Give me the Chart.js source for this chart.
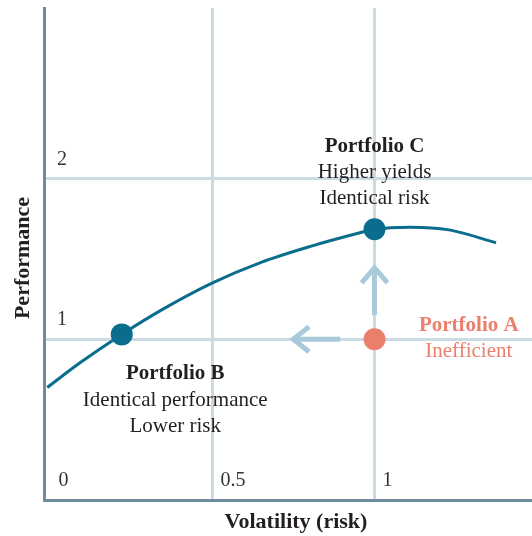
<!DOCTYPE html>
<html>
<head>
<meta charset="utf-8">
<script src="https://cdn.jsdelivr.net/npm/chart.js@4/dist/chart.umd.min.js"></script>
<style>
  html, body { margin: 0; padding: 0; background: #ffffff; }
  #wrap { width: 532px; height: 536px; }
</style>
</head>
<body>
<div id="wrap"><canvas id="chart" width="532" height="536"></canvas></div>
<script>
// Efficient frontier: volatility (x) against performance (y)
const frontierX = [-0.01, 0.09, 0.22, 0.35, 0.50, 0.65, 0.80, 0.955, 1.00, 1.11, 1.23, 1.375];
const frontierY = [0.70, 0.852, 1.03, 1.19, 1.35, 1.478, 1.576, 1.662, 1.684, 1.697, 1.68, 1.60];

// Portfolios
const portfolioNames = ['Portfolio A', 'Portfolio B', 'Portfolio C'];
const portfolioX = [1.0, 0.22, 1.0];
const portfolioY = [1.0, 1.03, 1.684];

// Move arrows from the inefficient portfolio
const arrowUpX = [1.0, 1.0];
const arrowUpY = [1.15, 1.444];
const arrowUpHeadX = [0.96, 1.0, 1.04];
const arrowUpHeadY = [1.351, 1.444, 1.351];
const arrowLeftX = [0.894, 0.749];
const arrowLeftY = [1.0, 1.0];
const arrowLeftHeadX = [0.798, 0.749, 0.798];
const arrowLeftHeadY = [1.078, 1.0, 0.922];

// Axis ticks and titles
const xTicks = [0, 0.5, 1];
const xTickLabels = ['0', '0.5', '1'];
const yTicks = [1, 2];
const yTickLabels = ['1', '2'];
const xTitle = 'Volatility (risk)';
const yTitle = 'Performance';

// Annotation text blocks: bold heading first
const noteA = ['Portfolio A', 'Inefficient'];
const noteB = ['Portfolio B', 'Identical performance', 'Lower risk'];
const noteC = ['Portfolio C', 'Higher yields', 'Identical risk'];
const noteAnchorX = [1.291, 0.385, 1.0];
const noteAnchorY = [1.086, 0.786, 2.2];

const TEAL = '#0b6d8d';
const SALMON = '#ea7f6c';
const ARROW = '#a9cadb';
const GRID = '#cbdbe4';
const AXIS = '#6b8d9e';
const INK = '#231f20';
const SERIF = '"Liberation Serif", "DejaVu Serif", serif';

const pts = (xs, ys) => xs.map((x, i) => ({ x: x, y: ys[i] }));

// Tick labels sit inside the plot, just above/right of their grid line
const axisTextPlugin = {
  id: 'axisText',
  afterDraw(chart) {
    const { ctx, scales, chartArea } = chart;
    const xs = scales.x, ys = scales.y;
    ctx.save();
    ctx.fillStyle = '#333333';
    ctx.font = '20px ' + SERIF;
    ctx.textBaseline = 'middle';
    ctx.textAlign = 'left';
    xs.ticks.forEach((t) => {
      const i = xTicks.indexOf(t.value);
      if (i < 0) return;
      ctx.fillText(xTickLabels[i], xs.getPixelForValue(t.value) + 8, chartArea.bottom - 19);
    });
    ys.ticks.forEach((t) => {
      const i = yTicks.indexOf(t.value);
      if (i < 0) return;
      ctx.fillText(yTickLabels[i], chartArea.left + 13, ys.getPixelForValue(t.value) - 19);
    });

    ctx.fillStyle = INK;
    ctx.font = 'bold 22px ' + SERIF;
    ctx.textAlign = 'center';
    ctx.fillText(xTitle, (chartArea.left + chartArea.right) / 2 + 8, chartArea.bottom + 22);
    ctx.translate(chartArea.left - 21, (chartArea.top + chartArea.bottom) / 2 + 4);
    ctx.rotate(-Math.PI / 2);
    ctx.fillText(yTitle, 0, 0);
    ctx.restore();
  }
};

const notesPlugin = {
  id: 'portfolioNotes',
  afterDatasetsDraw(chart) {
    const { ctx, scales } = chart;
    const blocks = [
      { lines: noteA, color: SALMON, gap: 26.5 },
      { lines: noteB, color: INK, gap: 26.5 },
      { lines: noteC, color: INK, gap: 26 }
    ];
    ctx.save();
    ctx.textAlign = 'center';
    ctx.textBaseline = 'middle';
    blocks.forEach((b, i) => {
      const px = scales.x.getPixelForValue(noteAnchorX[i]);
      const py = scales.y.getPixelForValue(noteAnchorY[i]);
      ctx.fillStyle = b.color;
      b.lines.forEach((t, j) => {
        ctx.font = (j === 0 ? 'bold ' : '') + '21px ' + SERIF;
        ctx.fillText(t, px, py + j * b.gap);
      });
    });
    ctx.restore();
  }
};

const lineSet = (data, color, width) => ({
  type: 'line',
  data: data,
  borderColor: color,
  borderWidth: width,
  pointRadius: 0,
  fill: false,
  tension: 0,
  borderCapStyle: 'butt',
  borderJoinStyle: 'miter'
});

new Chart(document.getElementById('chart'), {
  data: {
    datasets: [
      lineSet(pts(arrowUpX, arrowUpY), ARROW, 5),
      lineSet(pts(arrowUpHeadX, arrowUpHeadY), ARROW, 5),
      lineSet(pts(arrowLeftX, arrowLeftY), ARROW, 5),
      lineSet(pts(arrowLeftHeadX, arrowLeftHeadY), ARROW, 5),
      {
        type: 'line',
        label: 'Efficient frontier',
        data: pts(frontierX, frontierY),
        borderColor: TEAL,
        borderWidth: 3,
        pointRadius: 0,
        fill: false,
        cubicInterpolationMode: 'monotone'
      },
      {
        type: 'scatter',
        label: 'Portfolios',
        data: pts(portfolioX, portfolioY),
        backgroundColor: [SALMON, TEAL, TEAL],
        borderWidth: 0,
        pointRadius: 11,
        clip: false
      }
    ]
  },
  options: {
    responsive: false,
    animation: false,
    events: [],
    layout: { autoPadding: false, padding: { top: 8, right: 0, bottom: 36, left: 44 } },
    plugins: { legend: { display: false }, tooltip: { enabled: false } },
    scales: {
      x: {
        type: 'linear',
        min: -0.02,
        max: 1.486,
        afterBuildTicks: (s) => { s.ticks = xTicks.map(v => ({ value: v })); },
        border: { display: true, color: AXIS, width: 3 },
        grid: {
          drawTicks: false,
          lineWidth: 3,
          color: (c) => (c.tick && c.tick.value === 0 ? 'rgba(0,0,0,0)' : GRID)
        },
        ticks: { display: false },
        title: { display: false }
      },
      y: {
        type: 'linear',
        min: 0,
        max: 3.06,
        afterBuildTicks: (s) => { s.ticks = yTicks.map(v => ({ value: v })); },
        border: { display: true, color: AXIS, width: 3 },
        grid: { drawTicks: false, lineWidth: 3, color: GRID },
        ticks: { display: false },
        title: { display: false }
      }
    }
  },
  plugins: [notesPlugin, axisTextPlugin]
});
</script>
</body>
</html>
